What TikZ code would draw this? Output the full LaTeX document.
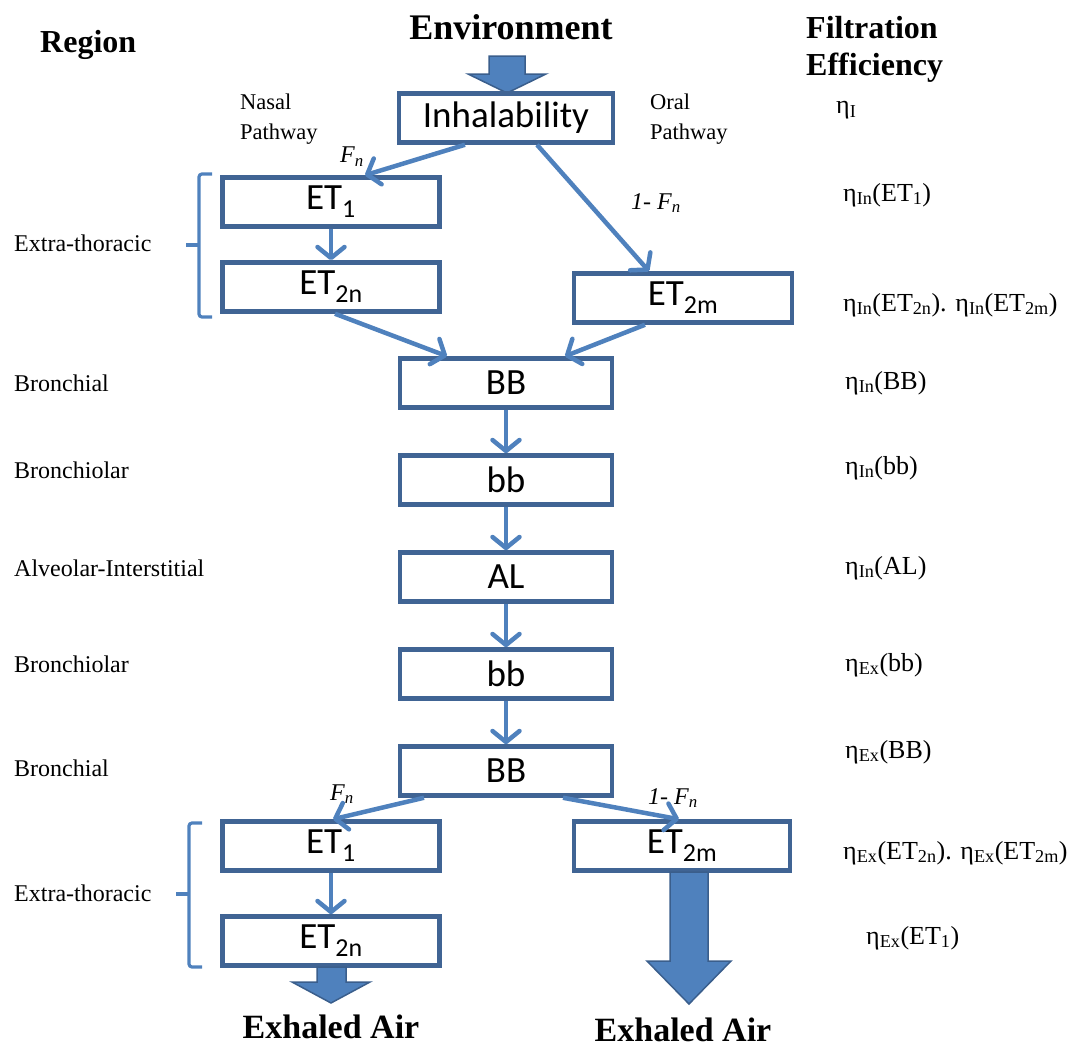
\documentclass[tikz,border=0pt]{standalone}
\usepackage{fontspec}
\setmainfont{Liberation Serif}
\newfontfamily\calfont{Carlito}
\usetikzlibrary{arrows.meta}
\definecolor{boxline}{RGB}{64,100,148}
\definecolor{arrblue}{RGB}{79,129,189}
\definecolor{blockedge}{RGB}{58,94,140}
\begin{document}
\begin{tikzpicture}[x=1pt,y=-1pt,
  box/.style={draw=boxline, line width=4.5pt, fill=white, minimum width=214pt, minimum height=49pt, inner sep=0pt, font=\calfont\fontsize{37}{42}\selectfont},
  flow/.style={draw=arrblue, line width=4.5pt, -{Straight Barb[length=11pt,width=27pt,round]}},
  blockarr/.style={fill=arrblue, draw=blockedge, line width=1.5pt, line join=miter},
  brace/.style={draw=arrblue, line width=3.2pt, rounded corners=3pt},
  lbl/.style={inner sep=0pt, anchor=west, font=\fontsize{24}{28}\selectfont},
  path/.style={inner sep=0pt, anchor=west, align=left, font=\fontsize{22.5}{30}\selectfont},
  eta/.style={inner sep=0pt, anchor=west, font=\fontsize{26}{28}\selectfont},
  frac/.style={inner sep=0pt, font=\itshape\fontsize{24}{26}\selectfont},
  title/.style={inner sep=0pt, font=\bfseries\fontsize{32}{37}\selectfont}
]
\useasboundingbox (0,0) rectangle (1072,1047);

% titles
\node[title, font=\bfseries\fontsize{36}{40}\selectfont] (env) at (511,27) {Environment};
\node[title, anchor=west] (region) at (40,45) {Region};
\node[title, anchor=west, align=left] (filt) at (806,49) {Filtration\\Efficiency};

% pathway labels
\node[path] (nasal) at (240,119) {Nasal\\Pathway};
\node[path] (oral) at (650,119) {Oral\\Pathway};

% block arrows
\draw[blockarr] (489,56) -- (525,56) -- (525,74) -- (546,74) -- (507,93) -- (468,74) -- (489,74) -- cycle;

% boxes
\node[box] (inh) at (506,118) {Inhalability};
\node[box, minimum width=217pt] (et1) at (331,202) {ET\textsubscript{1}};
\node[box, minimum width=217pt] (et2n) at (331,287) {ET\textsubscript{2n}};
\node[box, minimum width=218pt] (et2m) at (683,298) {ET\textsubscript{2m}};
\node[box, minimum width=212pt] (bb1) at (506,383) {BB};
\node[box, minimum width=212pt] (bs1) at (506,480) {bb};
\node[box, minimum width=212pt] (al) at (506,577) {AL};
\node[box, minimum width=212pt] (bs2) at (506,674) {bb};
\node[box, minimum width=212pt] (bb2) at (506,771) {BB};
\node[box, minimum width=217pt] (et1b) at (331,846) {ET\textsubscript{1}};
\node[box, minimum width=216pt] (et2mb) at (682,846) {ET\textsubscript{2m}};
\node[box, minimum width=217pt] (et2nb) at (331,941) {ET\textsubscript{2n}};

% exhale block arrows
\draw[blockarr] (317,967) -- (346,967) -- (346,982) -- (370,982) -- (331,1003) -- (292,982) -- (317,982) -- cycle;
\draw[blockarr] (670,872) -- (708,872) -- (708,961) -- (731,961) -- (689,1004) -- (647,961) -- (670,961) -- cycle;

% flow arrows
\draw[flow] ([xshift=-41pt]inh.south) -- ([xshift=34pt]et1.north);
\draw[flow] ([xshift=31pt]inh.south) -- ([xshift=-34pt]et2m.north);
\draw[flow] (et1.south) -- (et2n.north);
\draw[flow] ([xshift=4pt]et2n.south) -- ([xshift=-59pt]bb1.north);
\draw[flow] ([xshift=-38pt]et2m.south) -- ([xshift=59pt]bb1.north);
\draw[flow] (bb1.south) -- (bs1.north);
\draw[flow] (bs1.south) -- (al.north);
\draw[flow] (al.south) -- (bs2.north);
\draw[flow] (bs2.south) -- (bb2.north);
\draw[flow] ([xshift=-82pt]bb2.south) -- ([xshift=2pt]et1b.north);
\draw[flow] ([xshift=57pt]bb2.south) -- ([xshift=-3pt]et2mb.north);
\draw[flow] (et1b.south) -- (et2nb.north);

% flow fraction labels
\node[frac] (fn1) at (352,157) {F\textsubscript{n}};
\node[frac] (fo1) at (656,203) {1- F\textsubscript{n}};
\node[frac] (fn2) at (342,794) {F\textsubscript{n}};
\node[frac] (fo2) at (673,798) {1- F\textsubscript{n}};

% braces
\draw[brace] (212,174) -- (199,174) -- (199,317) -- (212,317);
\draw[brace] (199,245) -- (186,245);
\draw[brace] (202,823) -- (189,823) -- (189,967) -- (202,967);
\draw[brace] (189,894) -- (176,894);

% region labels
\node[lbl] (r1) at (14,243) {Extra-thoracic};
\node[lbl] (r2) at (14,383) {Bronchial};
\node[lbl] (r3) at (14,470) {Bronchiolar};
\node[lbl] (r4) at (14,568) {Alveolar-Interstitial};
\node[lbl] (r5) at (14,664) {Bronchiolar};
\node[lbl] (r6) at (14,768) {Bronchial};
\node[lbl] (r7) at (14,893) {Extra-thoracic};

% filtration efficiencies
\node[eta] (e1) at (836,110) {η\textsubscript{I}};
\node[eta] (e2) at (843,195) {η\textsubscript{In}(ET\textsubscript{1})};
\node[eta] (e3) at (843,305) {η\textsubscript{In}(ET\textsubscript{2n}). η\textsubscript{In}(ET\textsubscript{2m})};
\node[eta] (e4) at (845,383) {η\textsubscript{In}(BB)};
\node[eta] (e5) at (845,468) {η\textsubscript{In}(bb)};
\node[eta] (e6) at (845,568) {η\textsubscript{In}(AL)};
\node[eta] (e7) at (845,665) {η\textsubscript{Ex}(bb)};
\node[eta] (e8) at (845,752) {η\textsubscript{Ex}(BB)};
\node[eta] (e9) at (843,853) {η\textsubscript{Ex}(ET\textsubscript{2n}). η\textsubscript{Ex}(ET\textsubscript{2m})};
\node[eta] (e10) at (866,938) {η\textsubscript{Ex}(ET\textsubscript{1})};

% exhaled air
\node[title, font=\bfseries\fontsize{34}{38}\selectfont] (ex1) at (331,1027) {Exhaled Air};
\node[title, font=\bfseries\fontsize{34}{38}\selectfont] (ex2) at (683,1030) {Exhaled Air};
\end{tikzpicture}
\end{document}
